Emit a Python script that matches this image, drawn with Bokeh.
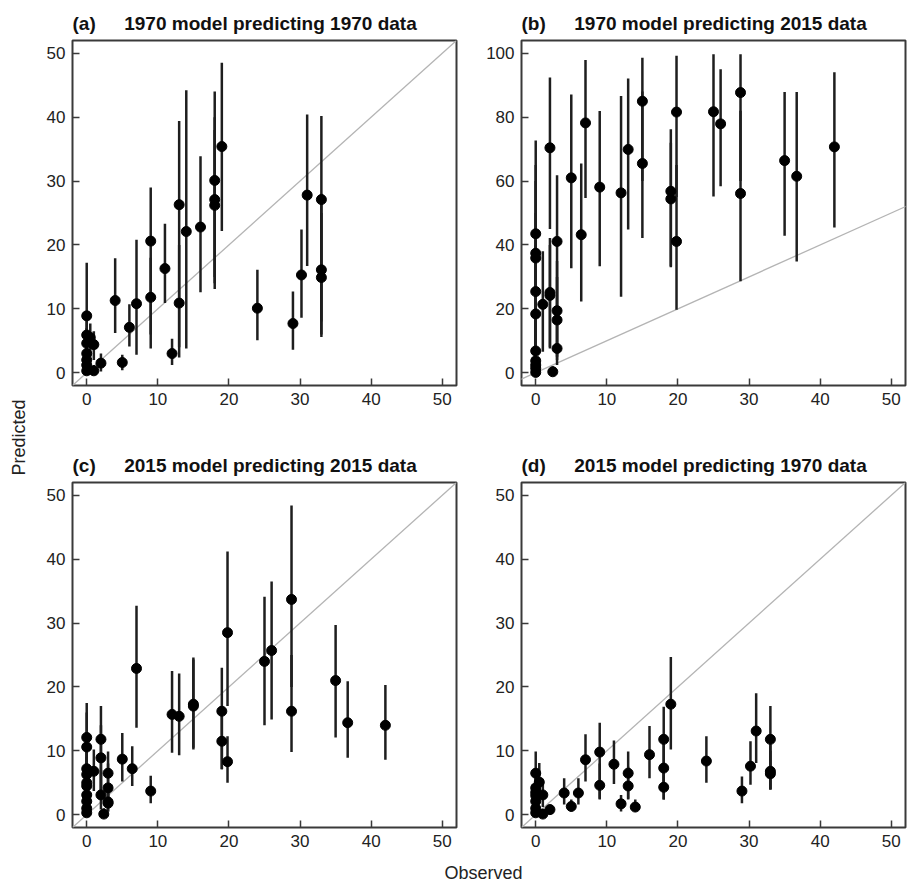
import math
from bokeh.plotting import figure
from bokeh.layouts import row, column
from bokeh.models import ColumnDataSource, Range1d, FixedTicker, Slope
from bokeh.core.properties import value
from bokeh.embed import file_html
from bokeh.resources import INLINE

FONT = "Liberation Sans"

# ---------------- data ----------------
# observed values, 1970 survey (panels a, d)
obs_1970 = [0, 0, 0, 0, 0, 0, 0, 0.5, 1, 1, 2, 4, 5, 6, 7, 9, 9, 11, 12, 13, 13, 14, 16,
            18, 18, 18, 19, 24, 29, 30.2, 31, 33, 33, 33]
# (a) 1970 model predicting 1970 data
a_pred = [8.9, 5.9, 4.6, 3.0, 2.0, 1.2, 0.3, 5.5, 4.4, 0.3, 1.5, 11.3, 1.6, 7.1, 10.8, 20.6, 11.8,
          16.3, 3.0, 26.3, 10.9, 22.1, 22.8, 30.1, 27.1, 26.2, 35.4, 10.1, 7.7, 15.3, 27.8, 27.1, 16.1, 14.9]
a_lo = [0.2, 2.5, 1.5, 0.8, 0.3, 0.1, 0.0, 2.5, 2.0, 0.0, 0.2, 6.2, 0.4, 4.1, 2.8, 3.8, 6.0,
        10.9, 1.2, 2.4, 4.0, 3.8, 12.6, 13.1, 15.0, 14.0, 22.2, 5.1, 3.6, 8.6, 16.7, 5.6, 8.0, 6.0]
a_hi = [17.2, 9.0, 7.0, 5.5, 4.0, 2.8, 1.2, 7.7, 6.5, 1.2, 3.0, 17.9, 2.8, 10.7, 20.8, 29.0, 18.0,
        23.3, 5.3, 39.4, 20.0, 44.2, 33.9, 44.0, 40.0, 38.0, 48.5, 16.1, 12.7, 22.4, 40.4, 40.2, 28.0, 25.0]
# (d) 2015 model predicting 1970 data
d_pred = [6.5, 4.2, 3.5, 3.0, 2.1, 1.0, 0.3, 5.1, 3.1, 0.1, 0.8, 3.4, 1.3, 3.4, 8.6, 9.8, 4.6,
          7.9, 1.7, 6.5, 4.5, 1.2, 9.4, 11.8, 7.3, 4.3, 17.3, 8.4, 3.7, 7.6, 13.1, 11.8, 6.8, 6.4]
d_lo = [1.5, 1.5, 1.0, 0.8, 0.5, 0.2, 0.0, 2.5, 1.2, 0.0, 0.2, 1.6, 0.5, 1.6, 5.2, 2.4, 2.5,
        4.8, 0.5, 2.4, 2.5, 0.5, 5.7, 2.4, 4.0, 2.4, 10.2, 5.0, 1.8, 4.7, 8.1, 3.9, 4.0, 4.0]
d_hi = [9.9, 7.0, 6.0, 5.5, 4.0, 2.5, 1.2, 8.1, 5.0, 0.8, 1.6, 5.7, 2.4, 5.7, 12.6, 14.4, 8.0,
        11.6, 3.1, 9.9, 7.5, 2.4, 13.9, 16.9, 12.0, 8.0, 24.7, 12.3, 6.0, 11.5, 19.0, 17.0, 11.0, 10.0]

# observed values, 2015 survey (panels b, c)
obs_2015 = [0, 0, 0, 0, 0, 0, 0, 0, 0, 0, 1, 2, 2, 2, 2.4, 3, 3, 3, 3, 5, 6.4, 7, 9, 12, 13,
            15, 15, 19, 19, 19.8, 19.8, 25, 26, 28.8, 28.8, 35, 36.7, 42]
# (b) 1970 model predicting 2015 data
b_pred = [43.5, 37.4, 35.9, 25.4, 18.4, 6.8, 3.7, 2.4, 1.4, 0.1, 21.4, 70.4, 25.1, 24.2, 0.3,
          41.1, 19.4, 16.5, 7.6, 61.0, 43.2, 78.2, 58.1, 56.3, 69.9, 85.0, 65.5, 56.8, 54.4,
          81.6, 41.1, 81.7, 77.9, 87.7, 56.1, 66.4, 61.5, 70.7]
b_lo = [5, 5, 4, 3, 2, 1, 0.5, 0.3, 0.1, 0, 6.6, 45.0, 7.6, 8, 0, 20, 5, 4, 2.4, 32.7, 22.3,
        54.7, 33.3, 23.8, 44.8, 60, 42.2, 33.3, 33, 55, 19.7, 55.2, 58.4, 60, 28.6, 42.9, 34.8, 45.5]
b_hi = [72.7, 65, 60, 50, 40, 20, 12, 8, 5, 2, 38.0, 92.4, 42.2, 40, 2, 61.8, 35, 30, 15, 87.1,
        65.5, 97.9, 81.9, 86.6, 92.1, 98.6, 88, 76.2, 72, 99.2, 65, 99.7, 95.0, 99.7, 82, 87.9, 87.9, 94.1]
# (c) 2015 model predicting 2015 data
c_pred = [12.1, 10.6, 7.2, 6.3, 5.0, 4.5, 3.1, 2.1, 1.0, 0.3, 6.8, 11.8, 8.9, 3.1, 0.1,
          6.5, 4.2, 2.0, 1.8, 8.7, 7.2, 22.9, 3.7, 15.7, 15.4, 17.3, 17.0, 16.2, 11.5,
          28.5, 8.3, 24.0, 25.7, 33.7, 16.2, 21.0, 14.4, 14.0]
c_lo = [3, 3, 2, 1.5, 1, 1, 0.5, 0.3, 0.1, 0, 3.7, 3, 3, 0.8, 0, 2.5, 1.5, 0.5, 0.5, 5.2, 4.5,
        13.6, 1.8, 9.7, 9.3, 10.2, 10.5, 7.1, 7.1, 17, 5.0, 14.0, 14.9, 20, 9.8, 12.1, 8.9, 8.6]
c_hi = [17.5, 16, 12, 10, 9, 8, 6, 4.5, 3, 1.5, 10.2, 17.0, 14, 7, 1, 9.9, 8, 4.5, 4, 12.8, 10.7,
        32.7, 6.1, 22.5, 22.1, 24.6, 24.3, 23.0, 16, 41.2, 12.3, 34.1, 36.5, 48.4, 25, 29.7, 20.9, 20.3]

x_ticks = [0, 10, 20, 30, 40, 50]
y_ticks_50 = [0, 10, 20, 30, 40, 50]
y_ticks_100 = [0, 20, 40, 60, 80, 100]

titles = ["(a)\u2003\u20021970 model predicting 1970 data",
          "(b)\u2003\u20021970 model predicting 2015 data",
          "(c)\u2003\u20022015 model predicting 2015 data",
          "(d)\u2003\u20022015 model predicting 1970 data"]

FRAME_W = 384
FRAME_H = 345


def panel(title, xs, ys, lo, hi, ymax, yticks, bl, br, bt, bb):
    pad = 0.04 * ymax
    p = figure(width=bl + FRAME_W + br, height=bt + FRAME_H + bb,
               output_backend="svg", toolbar_location=None,
               x_range=Range1d(-2, 52), y_range=Range1d(-pad, ymax + pad),
               min_border_left=bl, min_border_right=br,
               min_border_top=bt, min_border_bottom=bb)
    p.title.text = title
    p.title.text_font = FONT
    p.title.text_font_size = "19px"
    p.title.text_font_style = "bold"
    p.title.text_color = "#111111"
    p.title.align = "left"
    p.title.standoff = 14
    p.grid.visible = False
    p.outline_line_color = "#3a3a3a"
    p.outline_line_width = 2
    p.xaxis.ticker = FixedTicker(ticks=x_ticks)
    p.yaxis.ticker = FixedTicker(ticks=yticks)
    for ax in (p.xaxis[0], p.yaxis[0]):
        ax.axis_line_color = None
        ax.major_tick_in = 7
        ax.major_tick_out = 0
        ax.major_tick_line_color = "#3a3a3a"
        ax.major_tick_line_width = 1.5
        ax.minor_tick_line_color = None
        ax.major_label_text_font = FONT
        ax.major_label_text_font_size = "17px"
        ax.major_label_text_color = "#222222"
    p.xaxis.major_label_standoff = 7
    p.yaxis.major_label_standoff = 7
    p.add_layout(Slope(gradient=1, y_intercept=0, line_color="#b4b4b4",
                       line_width=1.3, level="underlay"))
    src = ColumnDataSource(dict(x=xs, y=ys, lo=lo, hi=hi))
    p.segment(x0="x", y0="lo", x1="x", y1="hi", source=src,
              line_color="#1e1e1e", line_width=2.5)
    p.scatter("x", "y", source=src, size=10, fill_color="#000000",
              line_color="#000000")
    return p


pa = panel(titles[0], obs_1970, a_pred, a_lo, a_hi, 50, y_ticks_50, 40, 10, 40, 30)
pb = panel(titles[1], obs_2015, b_pred, b_lo, b_hi, 100, y_ticks_100, 55, 2, 40, 30)
pc = panel(titles[2], obs_2015, c_pred, c_lo, c_hi, 50, y_ticks_50, 40, 10, 67, 26)
pd = panel(titles[3], obs_1970, d_pred, d_lo, d_hi, 50, y_ticks_50, 55, 2, 67, 26)

BOTTOM_H = 30
total_h = pa.height + pc.height + BOTTOM_H
grid_w = pa.width + pb.width


def strip(w, h):
    s = figure(width=w, height=h, output_backend="svg", toolbar_location=None,
               x_range=Range1d(0, w), y_range=Range1d(0, h),
               min_border=0)
    s.axis.visible = False
    s.grid.visible = False
    s.outline_line_color = None
    return s


LEFT_W = 32
left = strip(LEFT_W, total_h)
left.text(x=[18], y=[total_h - 437], text=["Predicted"], angle=math.pi / 2,
          text_align="center", text_baseline="middle",
          text_font=value(FONT), text_font_size="18px", text_color="#222222")

bottom = strip(grid_w, BOTTOM_H)
bottom.text(x=[483 - LEFT_W], y=[11], text=["Observed"], text_align="center",
            text_baseline="middle",
            text_font=value(FONT), text_font_size="18px", text_color="#222222")

layout = row(left, column(row(pa, pb), row(pc, pd), bottom))

open("out.html", "w").write(file_html(layout, INLINE))
